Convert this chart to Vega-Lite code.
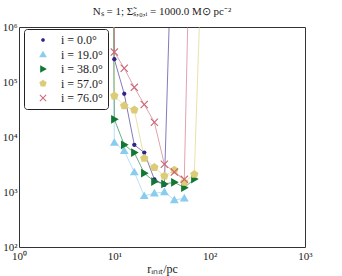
{
  "$schema": "https://vega.github.io/schema/vega-lite/v6.json",
  "width": 286,
  "height": 220,
  "autosize": "none",
  "padding": {"left": 19, "top": 27, "right": 37, "bottom": 29},
  "background": "white",
  "title": {"text": "Nₛ = 1; Σ̃ₛ,₀,ᵢ = 1000.0 M⊙ pc⁻²", "font": "Liberation Serif", "fontSize": 11, "fontWeight": "normal", "color": "#222", "offset": 4, "anchor": "middle"},
  "config": {
    "view": {"stroke": null},
    "axis": {"grid": false, "ticks": true, "domainColor": "#333", "tickColor": "#333", "tickWidth": 1, "labelColor": "#222", "titleColor": "#222", "labelFont": "Liberation Serif", "labelFontSize": 11, "titleFont": "Liberation Serif", "titleFontSize": 12, "titleFontWeight": "normal", "labelOverlap": false, "labelFlush": false, "tickSize": 0}
  },
  "data": {"values": [
    {"series": "i = 0.0°", "r": 7.85, "v": 1e30},
    {"series": "i = 0.0°", "r": 10, "v": 260000},
    {"series": "i = 0.0°", "r": 12.7, "v": 61000},
    {"series": "i = 0.0°", "r": 16.2, "v": 7200},
    {"series": "i = 0.0°", "r": 20.6, "v": 5200},
    {"series": "i = 0.0°", "r": 26.3, "v": 1700},
    {"series": "i = 0.0°", "r": 33.5, "v": 1350},
    {"series": "i = 0.0°", "r": 42.6, "v": 1700000000},
    {"series": "i = 19.0°", "r": 7.85, "v": 1e30},
    {"series": "i = 19.0°", "r": 10, "v": 7900},
    {"series": "i = 19.0°", "r": 12.7, "v": 5600},
    {"series": "i = 19.0°", "r": 16.2, "v": 2300},
    {"series": "i = 19.0°", "r": 20.6, "v": 850},
    {"series": "i = 19.0°", "r": 26.3, "v": 950},
    {"series": "i = 19.0°", "r": 33.5, "v": 1000},
    {"series": "i = 19.0°", "r": 42.6, "v": 715},
    {"series": "i = 19.0°", "r": 54.2, "v": 770},
    {"series": "i = 38.0°", "r": 7.85, "v": 1e30},
    {"series": "i = 38.0°", "r": 10, "v": 21000},
    {"series": "i = 38.0°", "r": 12.7, "v": 7200},
    {"series": "i = 38.0°", "r": 16.2, "v": 5200},
    {"series": "i = 38.0°", "r": 20.6, "v": 2200},
    {"series": "i = 38.0°", "r": 26.3, "v": 1550},
    {"series": "i = 38.0°", "r": 33.5, "v": 1400},
    {"series": "i = 38.0°", "r": 42.6, "v": 1500},
    {"series": "i = 38.0°", "r": 54.2, "v": 1200},
    {"series": "i = 38.0°", "r": 69, "v": 1720},
    {"series": "i = 57.0°", "r": 7.85, "v": 1e30},
    {"series": "i = 57.0°", "r": 10, "v": 56000},
    {"series": "i = 57.0°", "r": 12.7, "v": 37000},
    {"series": "i = 57.0°", "r": 16.2, "v": 31000},
    {"series": "i = 57.0°", "r": 20.6, "v": 4100},
    {"series": "i = 57.0°", "r": 26.3, "v": 2800},
    {"series": "i = 57.0°", "r": 33.5, "v": 1950},
    {"series": "i = 57.0°", "r": 42.6, "v": 2500},
    {"series": "i = 57.0°", "r": 54.2, "v": 1500},
    {"series": "i = 57.0°", "r": 69, "v": 2100},
    {"series": "i = 57.0°", "r": 88, "v": 500000000},
    {"series": "i = 76.0°", "r": 7.85, "v": 1e30},
    {"series": "i = 76.0°", "r": 10, "v": 350000},
    {"series": "i = 76.0°", "r": 12.7, "v": 178000},
    {"series": "i = 76.0°", "r": 16.2, "v": 80000},
    {"series": "i = 76.0°", "r": 20.6, "v": 39000},
    {"series": "i = 76.0°", "r": 26.3, "v": 18500},
    {"series": "i = 76.0°", "r": 33.5, "v": 3200},
    {"series": "i = 76.0°", "r": 42.6, "v": 2300},
    {"series": "i = 76.0°", "r": 54.2, "v": 1700},
    {"series": "i = 76.0°", "r": 69, "v": 300000000000}
  ]},
  "resolve": {"axis": {"x": "independent", "y": "independent"}, "legend": {"color": "independent", "shape": "independent"}},
  "layer": [
    {
      "mark": {"type": "line", "clip": true, "strokeWidth": 1, "opacity": 0.6},
      "encoding": {
        "x": {"field": "r", "type": "quantitative",
          "scale": {"type": "log", "domain": [1, 1000]},
          "axis": {"orient": "bottom", "title": "rᵢₙᵢₜ/pc", "titlePadding": 2, "labelPadding": 3,
            "values": [1,2,3,4,5,6,7,8,9,10,20,30,40,50,60,70,80,90,100,200,300,400,500,600,700,800,900,1000],
            "labelExpr": "abs(log(datum.value)/LN10 - round(log(datum.value)/LN10)) < 0.001 ? '10' + ['⁰','¹','²','³','⁴','⁵','⁶'][round(log(datum.value)/LN10)] : ''",
            "encode": {"ticks": {"y2": {"value": {"expr": "abs(log(datum.value)/LN10 - round(log(datum.value)/LN10)) < 0.001 ? -4.5 : -2.5"}}}}}},
        "y": {"field": "v", "type": "quantitative",
          "scale": {"type": "log", "domain": [100, 1000000]},
          "axis": {"orient": "left", "title": null, "labelPadding": 2,
            "values": [100,200,300,400,500,600,700,800,900,1000,2000,3000,4000,5000,6000,7000,8000,9000,10000,20000,30000,40000,50000,60000,70000,80000,90000,100000,200000,300000,400000,500000,600000,700000,800000,900000,1000000],
            "labelExpr": "abs(log(datum.value)/LN10 - round(log(datum.value)/LN10)) < 0.001 ? '10' + ['⁰','¹','²','³','⁴','⁵','⁶'][round(log(datum.value)/LN10)] : ''",
            "encode": {"ticks": {"x2": {"value": {"expr": "abs(log(datum.value)/LN10 - round(log(datum.value)/LN10)) < 0.001 ? 4.5 : 2.5"}}}}}},
        "color": {"field": "series", "type": "nominal",
          "scale": {"domain": ["i = 0.0°", "i = 19.0°", "i = 38.0°", "i = 57.0°", "i = 76.0°"], "range": ["#332288", "#88CCEE", "#117733", "#DDCC77", "#CC6677"]},
          "legend": null}
      }
    },
    {
      "mark": {"type": "point", "filled": true, "clip": true, "size": 64, "opacity": 1},
      "encoding": {
        "x": {"field": "r", "type": "quantitative",
          "scale": {"type": "log", "domain": [1, 1000]},
          "axis": {"orient": "top", "title": null, "labels": false,
            "values": [1,2,3,4,5,6,7,8,9,10,20,30,40,50,60,70,80,90,100,200,300,400,500,600,700,800,900,1000],
            "encode": {"ticks": {"y2": {"value": {"expr": "abs(log(datum.value)/LN10 - round(log(datum.value)/LN10)) < 0.001 ? 4.5 : 2.5"}}}}}},
        "y": {"field": "v", "type": "quantitative",
          "scale": {"type": "log", "domain": [100, 1000000]},
          "axis": {"orient": "right", "title": null, "labels": false,
            "values": [100,200,300,400,500,600,700,800,900,1000,2000,3000,4000,5000,6000,7000,8000,9000,10000,20000,30000,40000,50000,60000,70000,80000,90000,100000,200000,300000,400000,500000,600000,700000,800000,900000,1000000],
            "encode": {"ticks": {"x2": {"value": {"expr": "abs(log(datum.value)/LN10 - round(log(datum.value)/LN10)) < 0.001 ? -4.5 : -2.5"}}}}}},
        "color": {"field": "series", "type": "nominal",
          "scale": {"domain": ["i = 0.0°", "i = 19.0°", "i = 38.0°", "i = 57.0°", "i = 76.0°"], "range": ["#332288", "#88CCEE", "#117733", "#DDCC77", "#CC6677"]},
          "legend": {"orient": "none", "legendX": 5, "legendY": 2, "title": null,
            "labelFont": "Liberation Serif", "labelFontSize": 12, "labelColor": "#222",
            "symbolSize": 49, "symbolStrokeWidth": 0, "symbolOffset": 8, "labelOffset": 12,
            "padding": 5, "rowPadding": 2.5, "strokeColor": "#222", "fillColor": "white", "cornerRadius": 3}},
        "shape": {"field": "series", "type": "nominal",
          "scale": {"domain": ["i = 0.0°", "i = 19.0°", "i = 38.0°", "i = 57.0°", "i = 76.0°"], "range": [
            "M0.55,0L0.39,0.39L0,0.55L-0.39,0.39L-0.55,0L-0.39,-0.39L0,-0.55L0.39,-0.39Z",
            "M0,-1.1L1.1,0.8L-1.1,0.8Z",
            "M1.1,0L-0.8,-1.1L-0.8,1.1Z",
            "M0,-1.1L1.05,-0.34L0.65,0.89L-0.65,0.89L-1.05,-0.34Z",
            "M-1,-0.8L-0.8,-1L0,-0.2L0.8,-1L1,-0.8L0.2,0L1,0.8L0.8,1L0,0.2L-0.8,1L-1,0.8L-0.2,0Z"]},
          "legend": null}
      }
    }
  ]
}
